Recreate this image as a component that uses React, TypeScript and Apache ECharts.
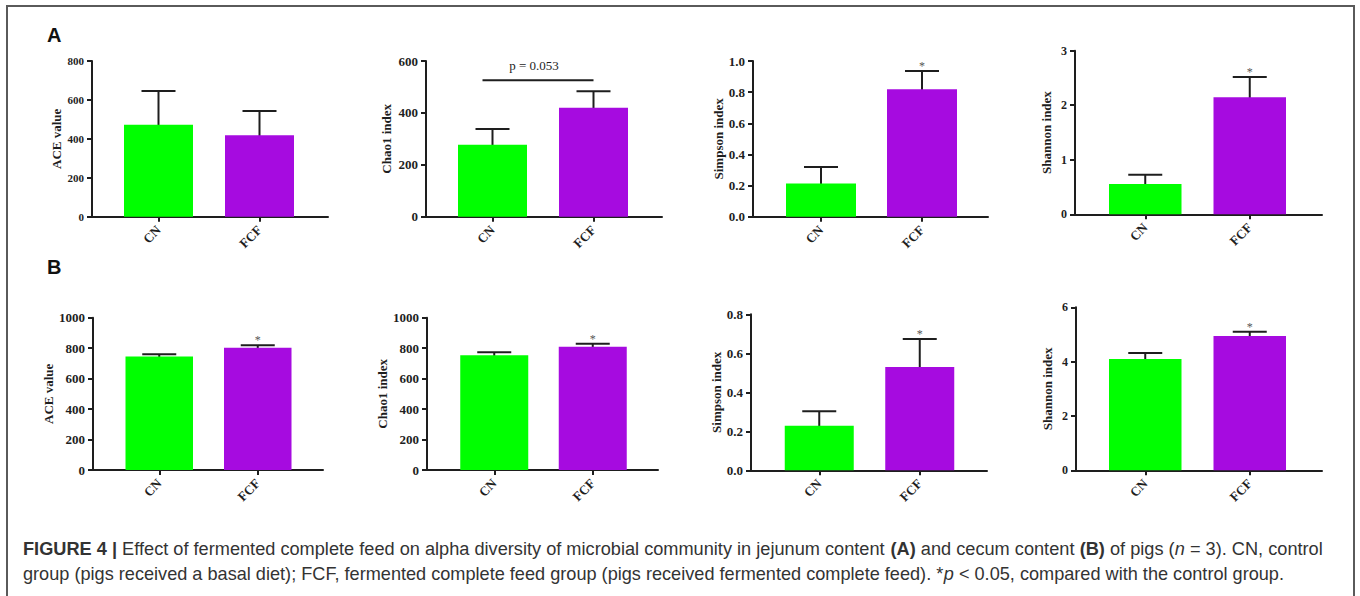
import React, { useEffect, useRef } from 'react';
import * as echarts from 'echarts';

// ---------- data ----------
const categories = ['CN', 'FCF'];
const panelLetters = ['A', 'B'];
const yNames = [
  'ACE value', 'Chao1 index', 'Simpson index', 'Shannon index',
  'ACE value', 'Chao1 index', 'Simpson index', 'Shannon index',
];
const meanValues = [
  [473, 418],
  [277, 420],
  [0.214, 0.818],
  [0.556, 2.145],
  [746, 803],
  [753, 810],
  [0.229, 0.53],
  [4.1, 4.94],
];
const sdValues = [
  [173, 125],
  [61, 63],
  [0.105, 0.118],
  [0.17, 0.373],
  [14, 16],
  [20, 19],
  [0.074, 0.143],
  [0.22, 0.16],
];
const significant = [
  [0, 0], [0, 0], [0, 1], [0, 1],
  [0, 1], [0, 1], [0, 1], [0, 1],
];
const yMaxValues = [800, 600, 1, 3, 1000, 1000, 0.8, 6];
const yIntervals = [200, 200, 0.2, 1, 200, 200, 0.2, 2];
const yDecimals = [0, 0, 1, 0, 0, 0, 1, 0];
const bracketPanel = 1;
const bracketValue = 526;
const bracketLabel = 'p = 0.053';

const captionLine1 = [
  { t: 'FIGURE 4 |', s: 'b' },
  { t: ' Effect of fermented complete feed on alpha diversity of microbial community in jejunum content ', s: 'r' },
  { t: '(A)', s: 'b' },
  { t: ' and cecum content ', s: 'r' },
  { t: '(B)', s: 'b' },
  { t: ' of pigs (', s: 'r' },
  { t: 'n', s: 'i' },
  { t: ' = 3). CN, control', s: 'r' },
];
const captionLine2 = [
  { t: 'group (pigs received a basal diet); FCF, fermented complete feed group (pigs received fermented complete feed). *', s: 'r' },
  { t: 'p', s: 'i' },
  { t: ' < 0.05, compared with the control group.', s: 'r' },
];

// ---------- layout / style ----------
const layout = [
  { ax: 92, end: 328, top: 61, zero: 216.7, bl: 108, br: 310, bw: 69, gap: 29, fs: 11 },
  { ax: 426, end: 662, top: 61, zero: 216.7, bl: 442, br: 644, bw: 69, gap: 33, fs: 13 },
  { ax: 753, end: 988, top: 61, zero: 216.7, bl: 770.5, br: 972.5, bw: 70, gap: 28, fs: 13 },
  { ax: 1075, end: 1322, top: 50.7, zero: 214.3, bl: 1093, br: 1302, bw: 72.5, gap: 22, fs: 12 },
  { ax: 93, end: 323, top: 317.7, zero: 470, bl: 110, br: 307, bw: 67.5, gap: 36, fs: 13 },
  { ax: 427, end: 658, top: 317.7, zero: 470, bl: 445, br: 642, bw: 68, gap: 36, fs: 13 },
  { ax: 751, end: 987, top: 314.3, zero: 470.3, bl: 769, br: 970, bw: 69, gap: 28, fs: 13 },
  { ax: 1076, end: 1322, top: 307.3, zero: 470.3, bl: 1093, br: 1302, bw: 72.5, gap: 22, fs: 12 },
];
const letterPos = [{ x: 47, y: 35 }, { x: 47, y: 266.5 }];
const barColors = ['#00FF00', '#A60BE0'];
const ink = '#1e1e1e';
const serif = '"Liberation Serif", "Times New Roman", serif';
const sans = '"Liberation Sans", Arial, sans-serif';
const capFontSize = 18;
const captionX = 23;
const captionLines = [
  { segs: captionLine1, y: 549, width: 1300 },
  { segs: captionLine2, y: 574.5, width: 1261 },
];

function measure(segs: { t: string; s: string }[]) {
  const c = document.createElement('canvas').getContext('2d');
  if (!c) return 1;
  let w = 0;
  for (const sg of segs) {
    const st = sg.s === 'i' ? 'italic' : 'normal';
    const wt = sg.s === 'b' ? 'bold' : 'normal';
    c.font = `${st} ${wt} ${capFontSize}px "Liberation Sans"`;
    w += c.measureText(sg.t).width;
  }
  return w;
}

function buildOption() {
  const grid: any[] = [];
  const xAxis: any[] = [];
  const yAxis: any[] = [];
  const series: any[] = [];

  layout.forEach((L, i) => {
    const h = L.zero - L.top;
    const wide = 2 * i;
    const narrow = 2 * i + 1;
    grid.push({ left: L.ax, top: L.top, width: L.end - L.ax, height: h, containLabel: false });
    grid.push({ left: L.bl, top: L.top, width: L.br - L.bl, height: h, containLabel: false });

    xAxis.push({
      gridIndex: wide, type: 'value', min: 0, max: 1,
      axisLine: { show: true, onZero: false, lineStyle: { color: ink, width: 2 } },
      axisTick: { show: false }, axisLabel: { show: false }, splitLine: { show: false },
    });
    xAxis.push({
      gridIndex: narrow, type: 'category', data: categories,
      axisLine: { show: false },
      axisTick: { show: true, alignWithLabel: true, length: 5, lineStyle: { color: ink, width: 2 } },
      axisLabel: {
        rotate: 45, margin: 11, fontFamily: serif, fontWeight: 'bold', fontSize: 13, color: ink,
      },
      splitLine: { show: false },
    });
    const dec = yDecimals[i];
    yAxis.push({
      gridIndex: wide, type: 'value', min: 0, max: yMaxValues[i], interval: yIntervals[i],
      axisLine: { show: true, lineStyle: { color: ink, width: 2 } },
      axisTick: { show: true, length: 5, lineStyle: { color: ink, width: 2 } },
      axisLabel: {
        margin: 8, fontFamily: serif, fontWeight: 'bold', fontSize: L.fs, color: ink,
        formatter: (v: number) => v.toFixed(dec),
      },
      splitLine: { show: false },
      name: yNames[i], nameLocation: 'middle', nameGap: L.gap,
      nameTextStyle: { fontFamily: serif, fontWeight: 'bold', fontSize: 13, color: ink },
    });
    yAxis.push({
      gridIndex: narrow, type: 'value', min: 0, max: yMaxValues[i], interval: yIntervals[i], show: false,
    });

    series.push({
      type: 'bar', xAxisIndex: narrow, yAxisIndex: narrow, barWidth: L.bw,
      data: meanValues[i].map((v, j) => ({ value: v, itemStyle: { color: barColors[j] } })),
      silent: true,
    });
    series.push({
      type: 'custom', xAxisIndex: narrow, yAxisIndex: narrow, silent: true,
      encode: { x: 0, y: 1 },
      data: categories.map((_, j) => [j, meanValues[i][j], sdValues[i][j], significant[i][j]]),
      renderItem: (params: any, api: any) => {
        const j = api.value(0);
        const m = api.value(1);
        const s = api.value(2);
        const g = api.value(3);
        const base = api.coord([j, m]);
        const top = api.coord([j, m + s]);
        const children: any[] = [
          { type: 'line', shape: { x1: base[0], y1: base[1] + 1, x2: top[0], y2: top[1] }, style: { stroke: ink, lineWidth: 2 } },
          { type: 'line', shape: { x1: top[0] - 17, y1: top[1], x2: top[0] + 17, y2: top[1] }, style: { stroke: ink, lineWidth: 2 } },
        ];
        if (g) {
          children.push({
            type: 'text',
            style: {
              text: '*', x: top[0], y: top[1] - 5, align: 'center', verticalAlign: 'middle',
              fontSize: 12, fontFamily: serif, fill: '#555',
            },
          });
        }
        return { type: 'group', children };
      },
    });
    if (i === bracketPanel) {
      series.push({
        type: 'custom', xAxisIndex: narrow, yAxisIndex: narrow, silent: true,
        encode: { x: 0, y: 2 },
        data: [[0, 1, bracketValue]],
        renderItem: (params: any, api: any) => {
          const a = api.coord([api.value(0), api.value(2)]);
          const b = api.coord([api.value(1), api.value(2)]);
          const x1 = a[0] - 10;
          const x2 = b[0];
          return {
            type: 'group',
            children: [
              { type: 'line', shape: { x1, y1: a[1], x2, y2: b[1] }, style: { stroke: ink, lineWidth: 2 } },
              {
                type: 'text',
                style: {
                  text: bracketLabel, x: (x1 + x2) / 2 - 4, y: a[1] - 15, align: 'center', verticalAlign: 'middle',
                  fontSize: 13, fontFamily: serif, fill: ink,
                },
              },
            ],
          };
        },
      });
    }
  });

  const graphic: any[] = [
    {
      type: 'rect', silent: true,
      shape: { x: 7, y: 6, width: 1347, height: 640 },
      style: { fill: 'none', stroke: '#5a5a5a', lineWidth: 2 },
    },
  ];
  panelLetters.forEach((t, k) => {
    graphic.push({
      type: 'text', x: letterPos[k].x, y: letterPos[k].y, silent: true,
      style: { text: t, fontFamily: sans, fontWeight: 'bold', fontSize: 20, fill: '#111', verticalAlign: 'middle' },
    });
  });
  captionLines.forEach((line) => {
    const total = measure(line.segs);
    const sx = line.width / total;
    const text = line.segs.map((sg) => `{${sg.s}|${sg.t}}`).join('');
    graphic.push({
      type: 'text', x: captionX, y: line.y, scaleX: sx, silent: true,
      style: {
        text, fontFamily: sans, fontSize: capFontSize, fill: '#333', verticalAlign: 'middle',
        rich: {
          r: { fontFamily: sans, fontSize: capFontSize, fill: '#333' },
          b: { fontFamily: sans, fontSize: capFontSize, fontWeight: 'bold', fill: '#333' },
          i: { fontFamily: sans, fontSize: capFontSize, fontStyle: 'italic', fill: '#333' },
        },
      },
    });
  });

  return {
    animation: false,
    backgroundColor: '#ffffff',
    grid, xAxis, yAxis, series, graphic,
  };
}

export default function App() {
  const ref = useRef<HTMLDivElement>(null);
  useEffect(() => {
    if (!ref.current) return;
    const chart = echarts.init(ref.current, undefined, { renderer: 'svg' });
    chart.setOption(buildOption() as any);
    return () => chart.dispose();
  }, []);
  return (
    <div
      ref={ref}
      style={{ position: 'fixed', left: 0, top: 0, width: 1360, height: 596, background: '#fff' }}
    />
  );
}
